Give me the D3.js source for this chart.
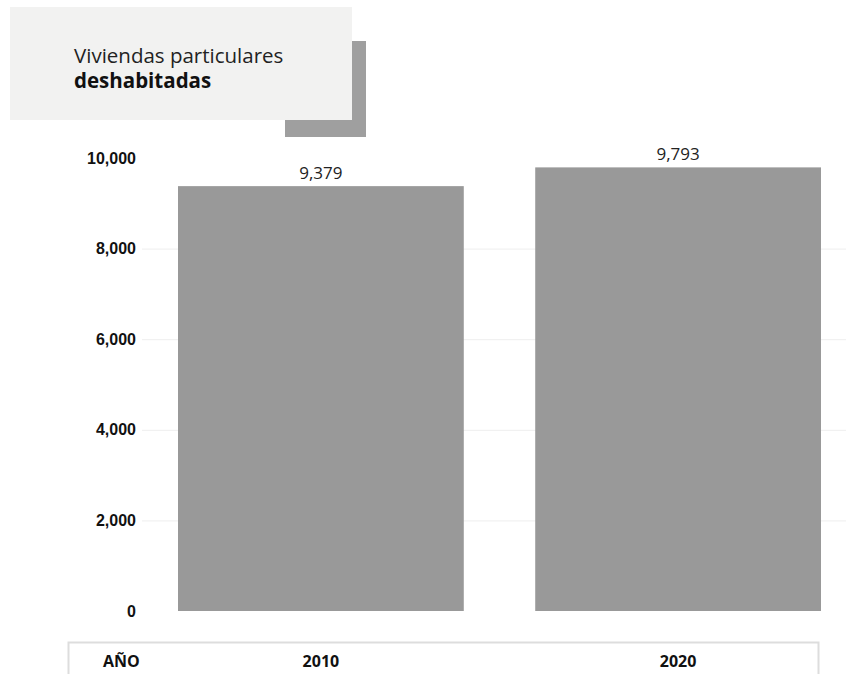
<!DOCTYPE html>
<html><head><meta charset="utf-8">
<script src="https://cdn.jsdelivr.net/npm/d3@7"></script>
<style>body{margin:0;background:#fff;} svg{display:block;}</style>
</head><body>
<script>
const categories = ["2010", "2020"];
const values = [9379, 9793];
const yTicks = [0, 2000, 4000, 6000, 8000, 10000];
const titleLine1 = "Viviendas particulares";
const titleLine2 = "deshabitadas";
const axisTitle = "AÑO";

const W = 846, H = 674;
const svg = d3.select("body").append("svg").attr("width", W).attr("height", H);

// title box with shadow
svg.append("rect").attr("x", 285).attr("y", 41).attr("width", 81).attr("height", 96).attr("fill", "#9f9f9f");
svg.append("rect").attr("x", 10).attr("y", 7).attr("width", 342).attr("height", 113).attr("fill", "#f2f2f1");
svg.append("text").attr("x", 74).attr("y", 63).attr("font-family", "Open Sans").attr("font-size", 20.5).attr("fill", "#222").text(titleLine1);
svg.append("text").attr("x", 74).attr("y", 88).attr("font-family", "Open Sans").attr("font-weight", "bold").attr("font-size", 20.5).attr("fill", "#111").text(titleLine2);

const y = d3.scaleLinear().domain([0, 10000]).range([611, 158]);
const x = d3.scaleBand().domain(categories).range([178, 821]).paddingInner(0.2).paddingOuter(0);

// gridlines
svg.append("g").selectAll("line").data(yTicks.filter(d => d > 0 && d < 10000)).join("line")
  .attr("x1", 142).attr("x2", W).attr("y1", d => y(d) + 0.5).attr("y2", d => y(d) + 0.5)
  .attr("stroke", "#eeeeee").attr("stroke-width", 1);

// y axis labels
const yAxis = d3.axisLeft(y).tickValues(yTicks).tickFormat(d3.format(",")).tickSize(0).tickPadding(0);
const gy = svg.append("g").attr("transform", "translate(136,0)").call(yAxis);
gy.select(".domain").remove();
gy.selectAll("text").attr("font-family", "Liberation Sans, Arial").attr("font-weight", "bold").attr("font-size", 16).attr("fill", "#111");

// bars
svg.append("g").selectAll("rect").data(values).join("rect")
  .attr("x", (d, i) => x(categories[i])).attr("width", x.bandwidth())
  .attr("y", d => y(d)).attr("height", d => y(0) - y(d))
  .attr("fill", "#999999");

// value labels
svg.append("g").selectAll("text").data(values).join("text")
  .attr("x", (d, i) => x(categories[i]) + x.bandwidth() / 2)
  .attr("y", d => y(d) - 7)
  .attr("text-anchor", "middle").attr("font-family", "Open Sans").attr("font-size", 17).attr("fill", "#222")
  .text(d => d3.format(",")(d));

// x axis box
svg.append("path").attr("d", `M68.5,${H} V642.5 H818.5 V${H}`).attr("fill", "none").attr("stroke", "#dddddd").attr("stroke-width", 2);
svg.append("text").attr("x", 103).attr("y", 667).attr("font-family", "Open Sans").attr("font-weight", "bold").attr("font-size", 16).attr("fill", "#111").text(axisTitle);
const xAxis = d3.axisBottom(x).tickSize(0).tickPadding(0);
const gx = svg.append("g").attr("transform", "translate(0,667)").call(xAxis);
gx.select(".domain").remove();
gx.selectAll("text").attr("font-family", "Open Sans").attr("font-weight", "bold").attr("font-size", 16).attr("fill", "#111").attr("dy", "0");
</script>
</body></html>
